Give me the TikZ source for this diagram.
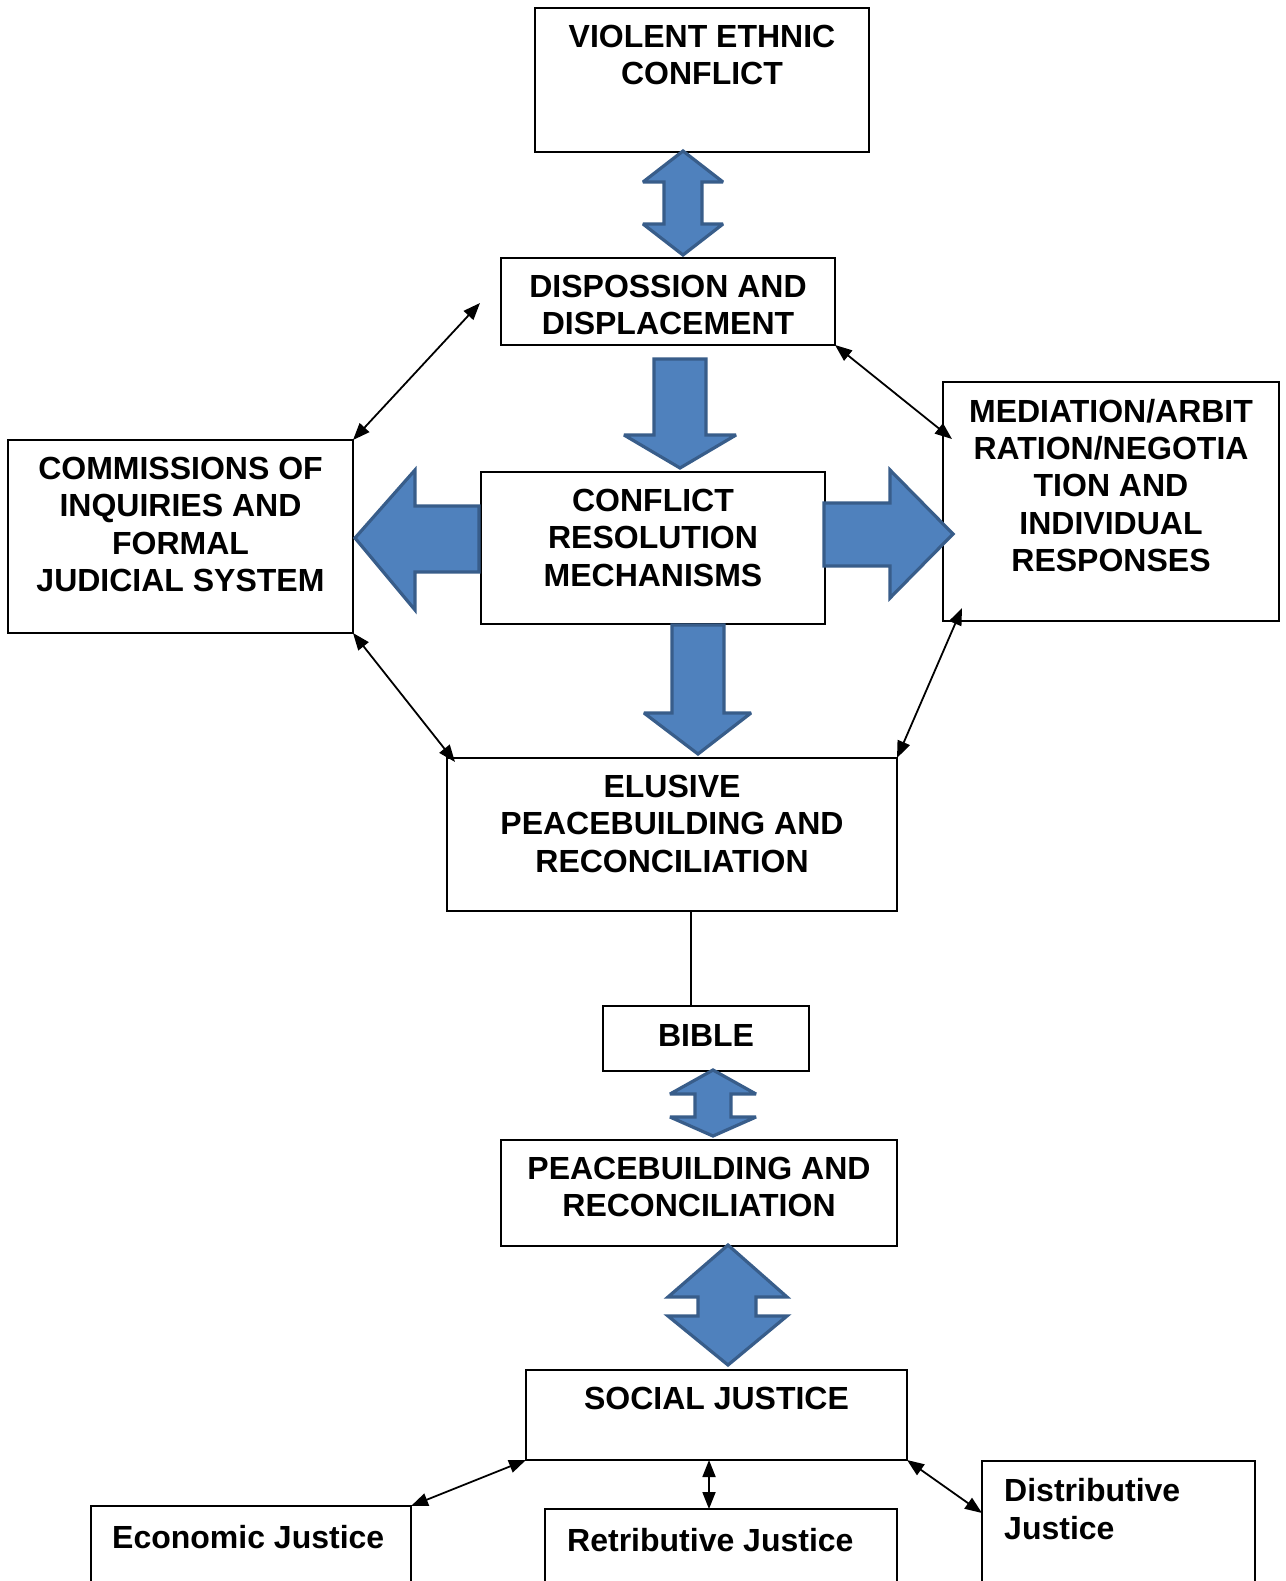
\documentclass[tikz,border=0pt]{standalone}
\usepackage{fontspec}
\setmainfont{Liberation Sans}
\usetikzlibrary{arrows.meta}
\definecolor{arrfill}{HTML}{4F81BD}
\definecolor{arrline}{HTML}{385D8A}
\begin{document}
\begin{tikzpicture}[x=1pt,y=-1pt,
  box/.style={draw=black,line width=1.3pt,inner sep=0pt,outer sep=0pt,anchor=north west},
  lbl/.style={anchor=north,inner sep=0pt,align=center,font=\fontsize{32}{37.3}\selectfont\bfseries},
  lbll/.style={anchor=north west,inner sep=0pt,align=left,font=\fontsize{32}{38}\selectfont\bfseries},
  blockarrow/.style={fill=arrfill,draw=arrline,line width=3.2pt,line join=miter,miter limit=3},
  conn/.style={line width=1.8pt,{Triangle[length=17pt,width=13pt]}-{Triangle[length=17pt,width=13pt]}}]
\useasboundingbox (0,0) rectangle (1285,1581);
\clip (0,0) rectangle (1285,1581);
\fill[white] (0,0) rectangle (1285,1581);

% boxes
\node[box,minimum width=334pt,minimum height=144pt] (v) at (535,8) {};
\node[box,minimum width=334pt,minimum height=87pt] (disp) at (501,258) {};
\node[box,minimum width=344pt,minimum height=152pt] (crm) at (481,472) {};
\node[box,minimum width=345pt,minimum height=193pt] (comm) at (8,440) {};
\node[box,minimum width=336pt,minimum height=239pt] (med) at (943,382) {};
\node[box,minimum width=450pt,minimum height=153pt] (elus) at (447,758) {};
\node[box,minimum width=206pt,minimum height=65pt] (bible) at (603,1006) {};
\node[box,minimum width=396pt,minimum height=106pt] (peace) at (501,1140) {};
\node[box,minimum width=381pt,minimum height=90pt] (soc) at (526,1370) {};
\node[box,minimum width=320pt,minimum height=140pt] (econ) at (91,1506) {};
\node[box,minimum width=352pt,minimum height=140pt] (retr) at (545,1509) {};
\node[box,minimum width=273pt,minimum height=160pt] (distr) at (982,1461) {};

% texts
\node[lbl,yshift=-17pt] (tv) at (v.north) {VIOLENT ETHNIC\\CONFLICT};
\node[lbl,yshift=-17pt] (tdisp) at (disp.north) {DISPOSSION AND\\DISPLACEMENT};
\node[lbl,yshift=-17pt] (tcrm) at (crm.north) {CONFLICT\\RESOLUTION\\MECHANISMS};
\node[lbl,yshift=-17pt] (tcomm) at (comm.north) {COMMISSIONS OF\\INQUIRIES AND\\FORMAL\\JUDICIAL SYSTEM};
\node[lbl,yshift=-17pt] (tmed) at (med.north) {MEDIATION/ARBIT\\RATION/NEGOTIA\\TION AND\\INDIVIDUAL\\RESPONSES};
\node[lbl,yshift=-17pt] (telus) at (elus.north) {ELUSIVE\\PEACEBUILDING AND\\RECONCILIATION};
\node[lbl,yshift=-18pt] (tbible) at (bible.north) {BIBLE};
\node[lbl,yshift=-17pt] (tpeace) at (peace.north) {PEACEBUILDING AND\\RECONCILIATION};
\node[lbl,yshift=-17pt] (tsoc) at (soc.north) {SOCIAL JUSTICE};
\node[lbll,xshift=21pt,yshift=-19pt] (tecon) at (econ.north west) {Economic Justice};
\node[lbll,xshift=22pt,yshift=-19pt] (tretr) at (retr.north west) {Retributive Justice};
\node[lbll,xshift=22pt,yshift=-17pt] (tdistr) at (distr.north west) {Distributive\\Justice};

% block arrows
\draw[blockarrow] (683,151) -- (723,182) -- (702,182) -- (702,224) -- (723,224) -- (683,255)
  -- (643,224) -- (664,224) -- (664,182) -- (643,182) -- cycle;
\draw[blockarrow] (654,359) -- (706,359) -- (706,435) -- (736,435) -- (680,468) -- (624,435) -- (654,435) -- cycle;
\draw[blockarrow] (355,538) -- (415,470) -- (415,506) -- (479,506) -- (479,572) -- (415,572) -- (415,610) -- cycle;
\draw[blockarrow] (953,534) -- (890,470) -- (890,503) -- (824,503) -- (824,566) -- (890,566) -- (890,598) -- cycle;
\draw[blockarrow] (672,625) -- (724,625) -- (724,713) -- (751,713) -- (698,754) -- (644,713) -- (672,713) -- cycle;
\draw[blockarrow] (713,1070) -- (756,1094) -- (731,1094) -- (731,1117) -- (756,1117) -- (713,1136)
  -- (670,1117) -- (695,1117) -- (695,1094) -- (670,1094) -- cycle;
\draw[blockarrow] (728,1245) -- (787,1297) -- (756,1297) -- (756,1316) -- (787,1316) -- (728,1365)
  -- (668,1316) -- (698,1316) -- (698,1297) -- (668,1297) -- cycle;

% connectors
\coordinate (c1a) at (480,303);
\draw[conn] (c1a) -- (comm.north east);
\coordinate (c2b) at (952,439);
\draw[conn] (disp.south east) -- (c2b);
\coordinate (c3b) at (455,762);
\draw[conn] (comm.south east) -- (c3b);
\coordinate (c4a) at (962,608);
\draw[conn] (c4a) -- (elus.north east);
\coordinate (l1) at (691,911);
\draw[line width=1.3pt] (l1) -- (l1 |- bible.north);
\draw[conn] (soc.south west) -- (econ.north east);
\coordinate (c7) at (709,1460);
\draw[conn] (c7) -- (c7 |- retr.north);
\coordinate (c8b) at (982,1513);
\draw[conn] (soc.south east) -- (c8b);
\end{tikzpicture}
\end{document}
